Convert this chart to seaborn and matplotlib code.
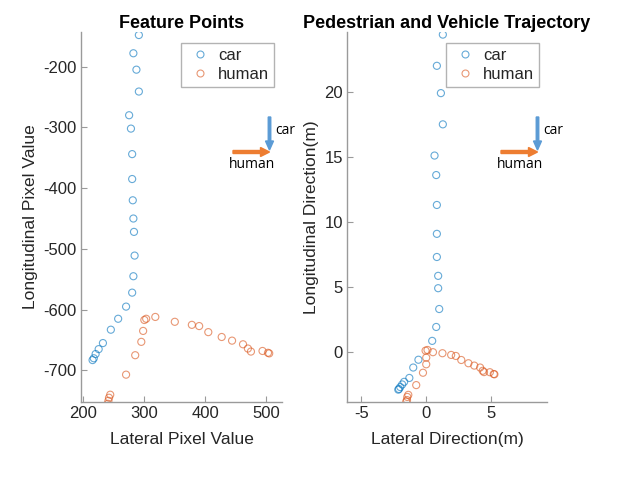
import matplotlib
matplotlib.use("Agg")
import matplotlib.pyplot as plt
import seaborn as sns
import pandas as pd
import numpy as np
from matplotlib.lines import Line2D
from matplotlib.patches import FancyArrow

# ---- data: Feature Points (pixels) ----
car_px_lat = [291, 282, 287, 291, 275, 278, 280, 280, 281, 282, 283, 284, 282, 280, 270, 257, 245, 232, 225, 220, 217, 215]
car_px_lon = [-148, -178, -205, -241, -280, -302, -344, -385, -420, -450, -472, -511, -545, -572, -595, -615, -633, -655, -665, -673, -680, -683]
hum_px_lat = [240, 241, 242, 244, 270, 285, 295, 298, 300, 303, 318, 350, 378, 390, 405, 427, 444, 462, 470, 475, 494, 503, 505]
hum_px_lon = [-755, -750, -745, -740, -707, -675, -653, -635, -617, -615, -612, -620, -625, -627, -637, -645, -651, -657, -664, -669, -668, -671, -672]

# ---- data: trajectory (metres) ----
car_m_lat = [1.28, 0.82, 1.13, 1.28, 0.64, 0.77, 0.82, 0.82, 0.82, 0.92, 0.92, 1.0, 0.77, 0.46, -0.6, -1.0, -1.3, -1.7, -1.85, -2.0, -2.1, -2.15]
car_m_lon = [24.4, 22.0, 19.9, 17.5, 15.1, 13.6, 11.3, 9.08, 7.3, 5.85, 4.9, 3.3, 1.92, 0.85, -0.6, -1.2, -2.0, -2.3, -2.5, -2.7, -2.85, -2.9]
hum_m_lat = [-1.54, -1.48, -1.46, -1.38, -0.77, -0.25, 0.0, 0.0, -0.05, 0.1, 0.52, 1.25, 1.92, 2.28, 2.7, 3.25, 3.7, 4.15, 4.35, 4.45, 4.9, 5.2, 5.25]
hum_m_lon = [-3.82, -3.7, -3.46, -3.3, -2.55, -1.6, -0.95, -0.44, 0.1, 0.15, -0.02, -0.1, -0.23, -0.31, -0.62, -0.87, -1.05, -1.2, -1.45, -1.55, -1.56, -1.7, -1.72]

series_names = ["car", "human"]
colors = {"car": "#0072BD", "human": "#D95319"}

left_xticks = [200, 300, 400, 500]
left_yticks = [-700, -600, -500, -400, -300, -200]
right_xticks = [-5, 0, 5]
right_yticks = [0, 5, 10, 15, 20]

df_px = pd.concat([
    pd.DataFrame({"lat": car_px_lat, "lon": car_px_lon, "obj": "car"}),
    pd.DataFrame({"lat": hum_px_lat, "lon": hum_px_lon, "obj": "human"}),
])
df_m = pd.concat([
    pd.DataFrame({"lat": car_m_lat, "lon": car_m_lon, "obj": "car"}),
    pd.DataFrame({"lat": hum_m_lat, "lon": hum_m_lon, "obj": "human"}),
])

sns.set_theme(style="white")
plt.rcParams['font.family'] = ['Liberation Sans', 'DejaVu Sans']
plt.rcParams['axes.unicode_minus'] = False

W, H = 622, 478
fig = plt.figure(figsize=(W / 100, H / 100), dpi=100)
ax1 = fig.add_axes([81 / W, (H - 402) / H, 201 / W, 370 / H])
ax2 = fig.add_axes([347 / W, (H - 402) / H, 200 / W, 370 / H])

text_col = "#262626"
axis_col = "#9a9a9a"


def draw(ax, df, xlim, ylim, xticks, yticks, xlabel, ylabel, title):
    for name in series_names:
        sub = df[df["obj"] == name]
        sns.scatterplot(data=sub, x="lat", y="lon", ax=ax, color=colors[name],
                        marker="o", s=26, linewidth=0.8, legend=False)
    for coll in ax.collections:
        fc = coll.get_facecolors()
        coll.set_edgecolors(fc)
        coll.set_facecolors("none")
        coll.set_alpha(0.6)
    ax.set_xlim(*xlim)
    ax.set_ylim(*ylim)
    ax.set_xticks(xticks)
    ax.set_yticks(yticks)
    ax.set_xlabel(xlabel, fontsize=12.5, color=text_col, labelpad=8)
    ax.set_ylabel(ylabel, fontsize=12.5, color=text_col, labelpad=4)
    ax.set_title(title, fontsize=13, fontweight="bold", color="black", pad=3)
    for s in ["top", "right"]:
        ax.spines[s].set_visible(False)
    for s in ["left", "bottom"]:
        ax.spines[s].set_color(axis_col)
        ax.spines[s].set_linewidth(1.0)
    ax.tick_params(axis="both", direction="in", length=4, width=0.8, color=axis_col,
                   labelsize=12, labelcolor=text_col, left=True, bottom=True, pad=3)
    handles = [Line2D([], [], marker="o", linestyle="none", markerfacecolor="none",
                      markeredgecolor=colors[n], alpha=0.6, markersize=5, markeredgewidth=0.8)
               for n in series_names]
    leg = ax.legend(handles, series_names, loc="upper right",
                    bbox_to_anchor=(0.96, 1 - 11 / 370), borderaxespad=0,
                    fontsize=12, frameon=True, fancybox=False, handletextpad=0.3,
                    borderpad=0.3, labelspacing=0.25, handlelength=1.6)
    leg.get_frame().set_edgecolor("#a0a0a0")
    leg.get_frame().set_linewidth(1.0)


draw(ax1, df_px, (196, 526), (-752, -143), left_xticks, left_yticks,
     "Lateral Pixel Value", "Longitudinal Pixel Value", "Feature Points")
draw(ax2, df_m, (-6.1, 9.3), (-3.85, 24.6), right_xticks, right_yticks,
     "Lateral Direction(m)", "Longitudinal Direction(m)", "Pedestrian and Vehicle Trajectory")


def arrows(xv, xh0):
    # vertical blue (car), horizontal orange (human); figure pixel coords
    fig.patches.append(FancyArrow(xv, H - 117, 0, -33, width=2.5, head_width=8, head_length=9,
                                  length_includes_head=True, color="#5B9BD5",
                                  transform=None, figure=fig))
    fig.patches.append(FancyArrow(xh0, H - 152, xv - xh0, 0, width=3, head_width=9, head_length=9,
                                  length_includes_head=True, color="#ED7D31",
                                  transform=None, figure=fig))
    fig.text((xv + 6) / W, (H - 130) / H, "car", fontsize=10, color="black",
             ha="left", va="center", family=["Open Sans", "DejaVu Sans"])
    fig.text((xv - 17) / W, (H - 165) / H, "human", fontsize=10, color="black",
             ha="center", va="center", family=["Open Sans", "DejaVu Sans"])


arrows(269.5, 233)
arrows(537.5, 501)

fig.savefig("out.png", dpi=100)
